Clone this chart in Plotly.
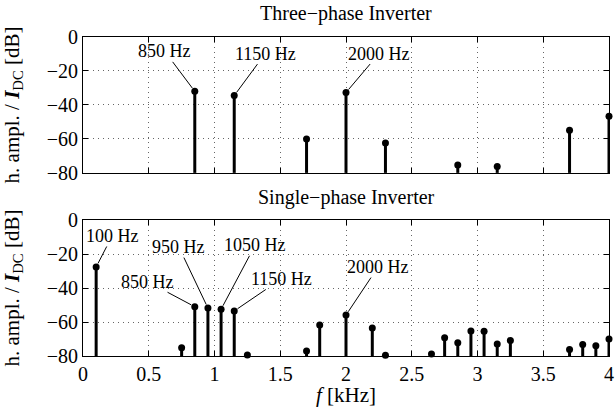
import plotly.graph_objects as go

# ---------------- data ----------------
three_freq_khz = [0.85, 1.15, 1.70, 2.00, 2.30, 2.85, 3.15, 3.70, 4.00]
three_ampl_db = [-32.0, -34.5, -60.0, -32.7, -62.4, -75.3, -76.3, -54.9, -46.7]

single_freq_khz = [0.10, 0.75, 0.85, 0.95, 1.05, 1.15, 1.25, 1.70, 1.80, 2.00, 2.20, 2.30,
                   2.65, 2.75, 2.85, 2.95, 3.05, 3.15, 3.25, 3.70, 3.80, 3.90, 4.00]
single_ampl_db = [-27.6, -75.1, -51.0, -51.8, -52.5, -53.5, -79.4, -77.1, -61.8, -55.9, -63.5, -79.6,
                  -78.8, -69.2, -72.2, -65.3, -65.5, -72.9, -70.8, -76.1, -73.2, -74.0, -70.0]

three_labeled_hz = [850, 1150, 2000]
single_labeled_hz = [100, 850, 950, 1050, 1150, 2000]

panel_titles = ["Three\u2212phase Inverter", "Single\u2212phase Inverter"]
y_floor = -80

# label offsets (pixels, text relative to point)
three_offsets = [(-30, -40), (31, -42), (33, -39)]
single_offsets = [(16, -31), (-47, -25), (-29, -61), (34, -64), (47, -32), (32, -48)]

FONT = "Liberation Serif, Times New Roman, serif"

fig = go.Figure()


def add_stems(freqs, ampls, xa, ya):
    xs, ys = [], []
    for f, a in zip(freqs, ampls):
        xs += [f, f, None]
        ys += [y_floor, a, None]
    fig.add_trace(go.Scatter(x=xs, y=ys, mode="lines", xaxis=xa, yaxis=ya,
                             line=dict(color="black", width=3), showlegend=False,
                             hoverinfo="skip", cliponaxis=False))
    fig.add_trace(go.Scatter(x=freqs, y=ampls, mode="markers", xaxis=xa, yaxis=ya,
                             marker=dict(color="black", size=7), showlegend=False,
                             cliponaxis=False))


add_stems(three_freq_khz, three_ampl_db, "x", "y")
add_stems(single_freq_khz, single_ampl_db, "x2", "y2")


def add_labels(labeled, freqs, ampls, offsets, xref, yref):
    for hz, (ax, ay) in zip(labeled, offsets):
        f = hz / 1000
        idx = min(range(len(freqs)), key=lambda i: abs(freqs[i] - f))
        fig.add_annotation(x=freqs[idx], y=ampls[idx], xref=xref, yref=yref,
                           text=f"{hz} Hz", showarrow=True, arrowhead=0,
                           arrowwidth=1, arrowcolor="black", ax=ax, ay=ay,
                           standoff=4, font=dict(family=FONT, size=18, color="black"),
                           borderpad=0)


add_labels(three_labeled_hz, three_freq_khz, three_ampl_db, three_offsets, "x", "y")
add_labels(single_labeled_hz, single_freq_khz, single_ampl_db, single_offsets, "x2", "y2")

fig.add_annotation(text=panel_titles[0], xref="paper", yref="paper", x=0.5, y=1.074,
                   showarrow=False, yanchor="middle",
                   font=dict(family=FONT, size=20, color="black"))
fig.add_annotation(text=panel_titles[1], xref="paper", yref="paper", x=0.5, y=0.498,
                   showarrow=False, yanchor="middle",
                   font=dict(family=FONT, size=20, color="black"))

axis_common = dict(showline=True, linecolor="black", linewidth=1, mirror="ticks",
                   ticks="inside", ticklen=5, tickcolor="black", automargin=False,
                   showgrid=True, gridcolor="rgba(0,0,0,0.6)", griddash="1px,4px", gridwidth=1,
                   zeroline=False, tickfont=dict(family=FONT, size=20, color="black"))

ytitle = "h. ampl. / <i><b>I</b></i><sub>DC</sub> [dB]"

fig.update_layout(
    width=615, height=407,
    font=dict(family=FONT, color="black"),
    margin=dict(l=83, r=6, t=37, b=51),
    paper_bgcolor="white", plot_bgcolor="white",
    xaxis=dict(domain=[0, 1], range=[0, 4], dtick=0.5, anchor="y", showticklabels=False,
               **axis_common),
    yaxis=dict(domain=[0.574, 1], range=[-80, 0], dtick=20, anchor="x",
               title=dict(text=ytitle, font=dict(family=FONT, size=21, color="black"), standoff=23),
               **axis_common),
    xaxis2=dict(domain=[0, 1], range=[0, 4], dtick=0.5, anchor="y2",
                title=dict(text="<i>f</i> [kHz]", font=dict(family=FONT, size=21, color="black"), standoff=2),
                **axis_common),
    yaxis2=dict(domain=[0, 0.426], range=[-80, 0], dtick=20, anchor="x2",
                title=dict(text=ytitle, font=dict(family=FONT, size=21, color="black"), standoff=23),
                **axis_common),
)

# remove the default page margin so the figure sits at the window's top-left corner
fig.write_html("out.html", config={"displayModeBar": False},
               post_script="document.body.style.margin='0';")
